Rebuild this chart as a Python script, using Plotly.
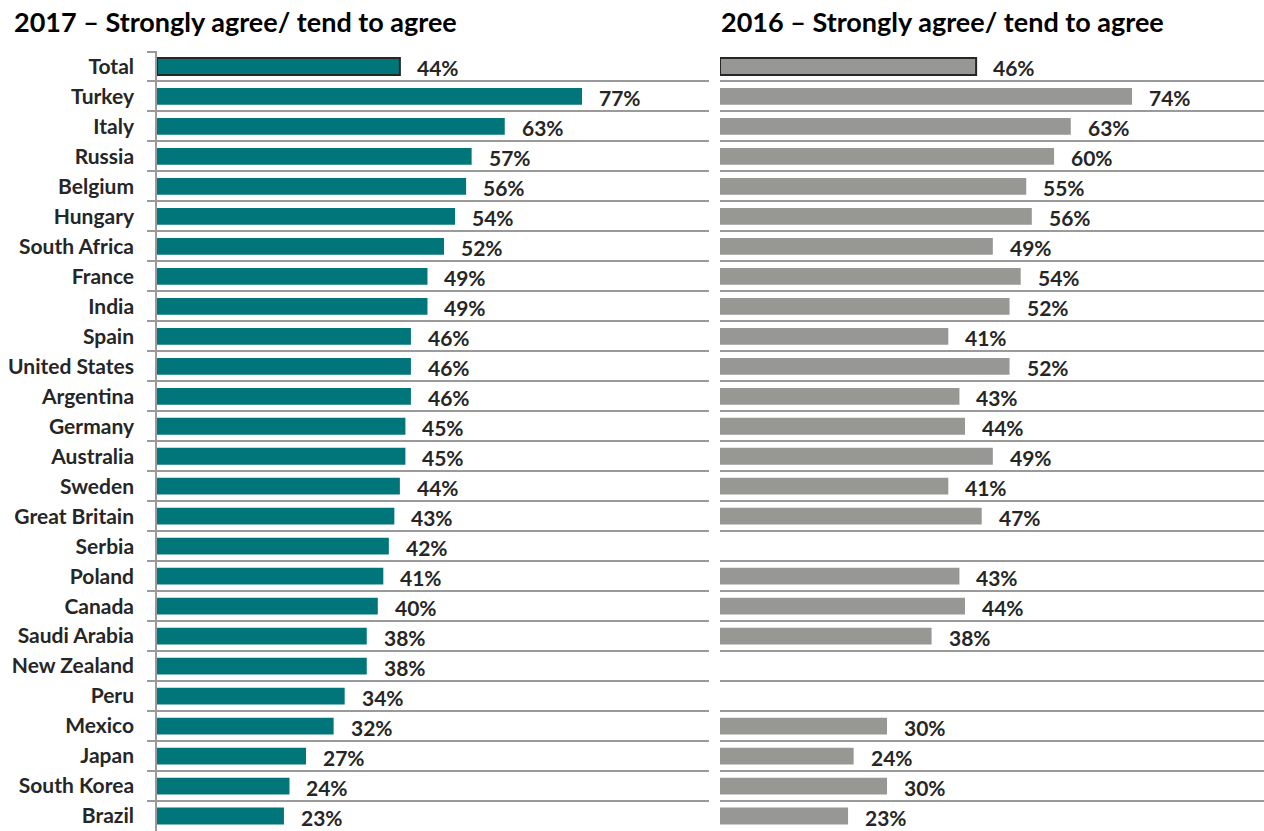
import plotly.graph_objects as go

countries = ["Total", "Turkey", "Italy", "Russia", "Belgium", "Hungary", "South Africa",
             "France", "India", "Spain", "United States", "Argentina", "Germany", "Australia",
             "Sweden", "Great Britain", "Serbia", "Poland", "Canada", "Saudi Arabia",
             "New Zealand", "Peru", "Mexico", "Japan", "South Korea", "Brazil"]
agree_2017 = [44, 77, 63, 57, 56, 54, 52, 49, 49, 46, 46, 46, 45, 45, 44, 43, 42, 41, 40, 38,
              38, 34, 32, 27, 24, 23]
agree_2016 = [46, 74, 63, 60, 55, 56, 49, 54, 52, 41, 52, 43, 44, 49, 41, 47, None, 43, 44, 38,
              None, None, 30, 24, 30, 23]

titles = ["2017 – Strongly agree/ tend to agree", "2016 – Strongly agree/ tend to agree"]

TEAL = "#00767a"
GREY = "#979894"
TEXT = "#262626"
LINE = "#9a9a9a"
FONT = "Lato"

W, H = 1264, 831
TOP = 51  # px from top to first gridline

fig = go.Figure()

# only the Total bar gets a dark outline
outline = [2 if c == "Total" else 0 for c in countries]

fig.add_trace(go.Bar(
    x=agree_2017, y=countries, orientation="h", xaxis="x", yaxis="y",
    marker=dict(color=TEAL, line=dict(color=TEXT, width=outline)),
    width=0.56, hoverinfo="skip"
))
fig.add_trace(go.Bar(
    x=agree_2016, y=countries, orientation="h", xaxis="x2", yaxis="y2",
    marker=dict(color=GREY, line=dict(color=TEXT, width=outline)),
    width=0.56, hoverinfo="skip"
))

# value labels
annotations = []
for xref, yref, vals in [("x", "y", agree_2017), ("x2", "y2", agree_2016)]:
    for c, v in zip(countries, vals):
        if v is None:
            continue
        annotations.append(dict(
            x=v, y=c, xref=xref, yref=yref, text=f"{v}%", showarrow=False,
            xanchor="left", xshift=15, yshift=-1,
            font=dict(family=FONT, size=21, color=TEXT, weight="bold")
        ))

# panel titles (pixel y=22 converted to paper coords)
title_y = 1 + (TOP - 22) / (H - TOP)
for x0, t in [(12 / W, titles[0]), (719 / W, titles[1])]:
    annotations.append(dict(
        x=x0, y=title_y, xref="paper", yref="paper", yanchor="middle", xanchor="left",
        text=t, showarrow=False,
        font=dict(family=FONT, size=27, color="black", weight="bold")
    ))

grid = dict(showgrid=True, gridcolor=LINE, gridwidth=1.5, tickson="boundaries")

fig.update_layout(
    width=W, height=H,
    margin=dict(l=0, r=0, t=TOP, b=0),
    plot_bgcolor="white", paper_bgcolor="white",
    showlegend=False,
    bargap=0.44,
    font=dict(family=FONT, color=TEXT),
    xaxis=dict(domain=[157 / W, 709 / W], range=[0, 100], visible=False),
    xaxis2=dict(domain=[720 / W, 1.0], range=[0, 97.7], visible=False),
    yaxis=dict(anchor="x", autorange="reversed", ticks="outside", ticklen=8,
               tickcolor=LINE, tickwidth=1.5, showline=True, linecolor=LINE,
               linewidth=1.5, ticklabelstandoff=17,
               tickfont=dict(family=FONT, size=21, color=TEXT, weight="bold"), **grid),
    yaxis2=dict(anchor="x2", autorange="reversed", showticklabels=False, ticks="",
                showline=False, **grid),
    annotations=annotations,
)

fig.write_html("out.html", config={"displayModeBar": False},
               post_script="document.body.style.margin='0';")
